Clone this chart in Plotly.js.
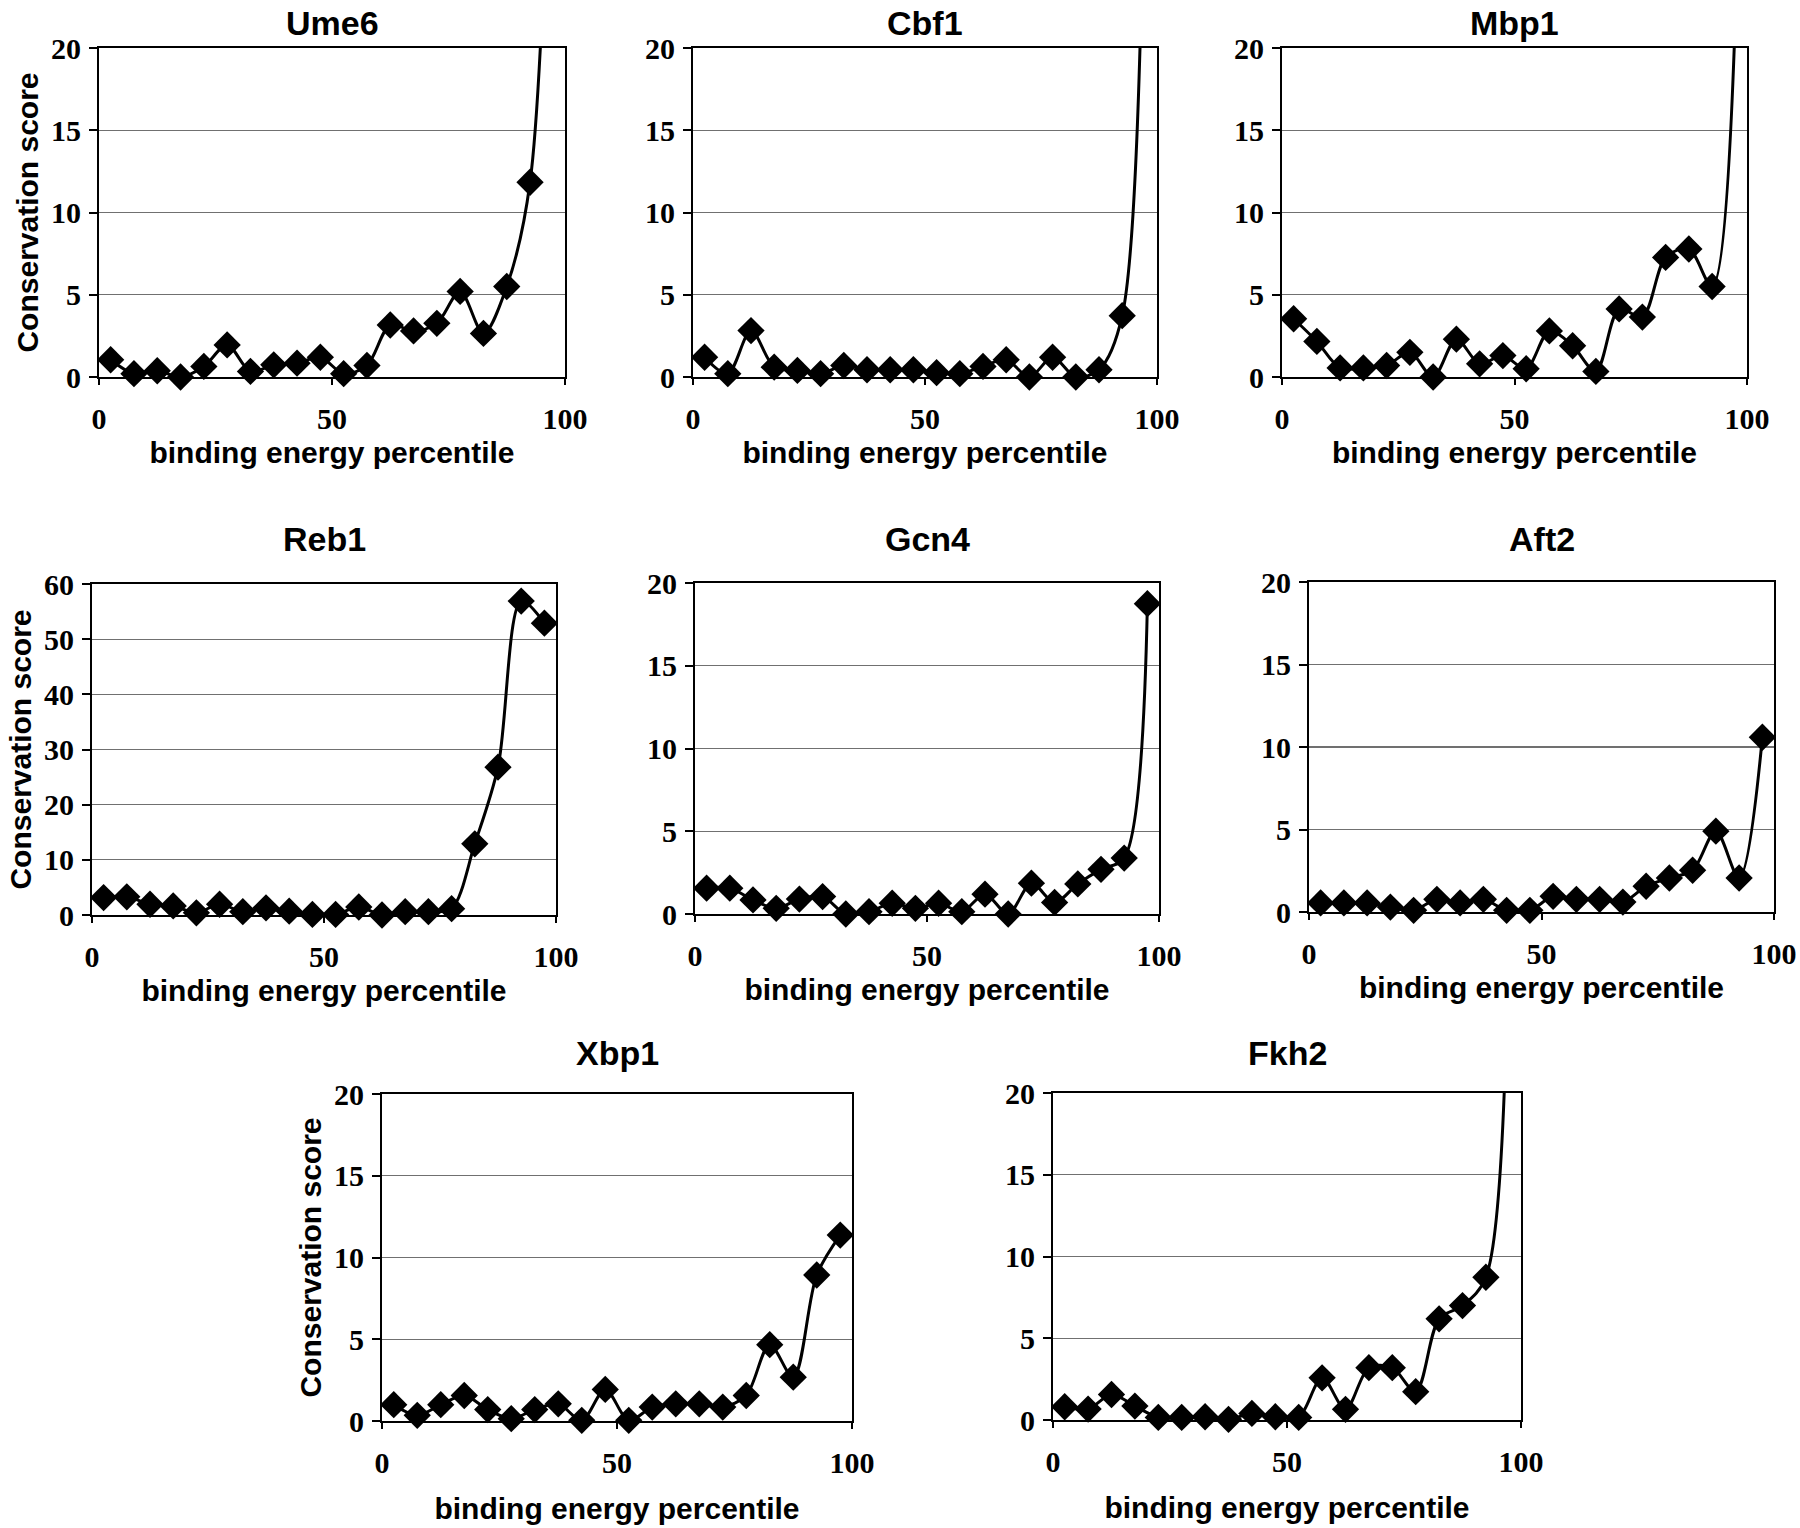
<!DOCTYPE html>
<html>
<head>
<meta charset="utf-8">
<script src="https://cdn.plot.ly/plotly-3.0.1.min.js"></script>
<style>
  html, body { margin: 0; padding: 0; background: #fff; }
  #chart { width: 1800px; height: 1528px; }
</style>
</head>
<body>
<div id="chart"></div>
<script>
// binding energy percentile bins (centre of each 5% bin)
const percentile = [2.5, 7.5, 12.5, 17.5, 22.5, 27.5, 32.5, 37.5, 42.5, 47.5,
  52.5, 57.5, 62.5, 67.5, 72.5, 77.5, 82.5, 87.5, 92.5, 97.5];

// conservation score per factor (last points of some panels run off the top)
const ume6 = [1.05, 0.2, 0.38, 0, 0.64, 1.95, 0.34, 0.74, 0.84, 1.2,
  0.2, 0.7, 3.16, 2.8, 3.26, 5.2, 2.65, 5.5, 11.84, 42];
const cbf1 = [1.2, 0.2, 2.82, 0.6, 0.4, 0.2, 0.7, 0.44, 0.44, 0.44,
  0.26, 0.2, 0.64, 1.05, 0, 1.2, 0, 0.44, 3.73, 38];
const mbp1 = [3.54, 2.16, 0.55, 0.55, 0.7, 1.5, 0, 2.3, 0.8, 1.3,
  0.5, 2.8, 1.9, 0.34, 4.14, 3.64, 7.27, 7.78, 5.5, 22];
const reb1 = [3.15, 3.3, 1.95, 1.65, 0.4, 1.95, 0.6, 1.3, 0.7, 0.1,
  0.1, 1.45, 0, 0.6, 0.6, 1.15, 12.9, 26.8, 56.9, 52.9];
const gcn4 = [1.56, 1.56, 0.85, 0.34, 0.9, 1.05, 0, 0.14, 0.65, 0.34,
  0.65, 0.14, 1.2, 0, 1.86, 0.7, 1.82, 2.7, 3.38, 18.75];
const aft2 = [0.55, 0.55, 0.55, 0.3, 0.1, 0.77, 0.55, 0.77, 0.1, 0.1,
  0.95, 0.77, 0.77, 0.6, 1.56, 2.06, 2.53, 4.9, 2.06, 10.59];
const xbp1 = [1.0, 0.35, 1.0, 1.56, 0.7, 0.14, 0.7, 1.05, 0.04, 1.93,
  0.04, 0.85, 1.05, 1.05, 0.85, 1.56, 4.67, 2.68, 8.93, 11.37];
const fkh2 = [0.81, 0.67, 1.56, 0.85, 0.16, 0.16, 0.2, 0.04, 0.4, 0.2,
  0.16, 2.58, 0.65, 3.2, 3.2, 1.73, 6.19, 7.0, 8.73, 35];

const names = ['Ume6', 'Cbf1', 'Mbp1', 'Reb1', 'Gcn4', 'Aft2', 'Xbp1', 'Fkh2'];
const series = [ume6, cbf1, mbp1, reb1, gcn4, aft2, xbp1, fkh2];
const yMax = [20, 20, 20, 60, 20, 20, 20, 20];
const yStep = [5, 5, 5, 10, 5, 5, 5, 5];

const xTitle = 'binding energy percentile';
const yTitle = 'Conservation score';

// plot boxes in pixels: [left, right, top, bottom]
const W = 1800, H = 1528;
const boxes = [
  [99, 565, 48, 377], [693, 1157, 48, 377], [1282, 1747, 48, 377],
  [92, 556, 584, 915], [695, 1159, 583, 914], [1309, 1774, 582, 912],
  [382, 852, 1094, 1421], [1053, 1521, 1093, 1420]
];
// vertical pixel of the top edge of each panel name
const nameTop = [2, 2, 2, 518, 518, 518, 1032, 1032];
const withYTitle = [true, false, false, true, false, false, true, false];

const tickFont = {family: '"Liberation Serif", "Times New Roman", serif', size: 30, color: '#000', weight: 'bold'};
const labelFont = {family: '"Liberation Sans", Arial, sans-serif', size: 30, color: '#000', weight: 'bold'};

var data = [];
var layout = {
  width: W, height: H,
  margin: {l: 0, r: 0, t: 0, b: 0},
  paper_bgcolor: '#fff', plot_bgcolor: '#fff',
  showlegend: false,
  annotations: []
};

names.forEach(function (name, i) {
  var n = i + 1;
  var b = boxes[i];
  var xk = 'xaxis' + (n === 1 ? '' : n);
  var yk = 'yaxis' + (n === 1 ? '' : n);
  data.push({
    x: percentile,
    y: series[i],
    xaxis: 'x' + (n === 1 ? '' : n),
    yaxis: 'y' + (n === 1 ? '' : n),
    type: 'scatter',
    mode: 'lines+markers',
    name: name,
    line: {color: '#000', width: 3, shape: 'spline', smoothing: 0.9},
    marker: {symbol: 'diamond', size: 21, color: '#000'},
    cliponaxis: false
  });
  layout[xk] = {
    domain: [b[0] / W, b[1] / W],
    anchor: 'y' + (n === 1 ? '' : n),
    range: [0, 100], tickvals: [0, 50, 100],
    showgrid: false, zeroline: false,
    showline: true, linecolor: '#000', linewidth: 2, mirror: true,
    ticks: 'outside', ticklen: 6, tickwidth: 2, tickcolor: '#000',
    tickfont: tickFont, ticklabelstandoff: 8,
    title: {text: xTitle, font: labelFont, standoff: i >= 6 ? 20 : 8}
  };
  layout[yk] = {
    domain: [1 - b[3] / H, 1 - b[2] / H],
    anchor: 'x' + (n === 1 ? '' : n),
    range: [0, yMax[i]], dtick: yStep[i], tick0: 0,
    showgrid: true, gridcolor: '#707070', gridwidth: 1.2,
    zeroline: false,
    showline: true, linecolor: '#000', linewidth: 2, mirror: true,
    ticks: 'outside', ticklen: 8, tickwidth: 2, tickcolor: '#000',
    tickfont: tickFont, ticklabelstandoff: 2,
    title: withYTitle[i] ? {text: yTitle, font: labelFont, standoff: 4} : {text: ''}
  };
  layout.annotations.push({
    text: name,
    xref: 'paper', yref: 'paper',
    x: (b[0] + b[1]) / 2 / W,
    y: 1 - nameTop[i] / H,
    xanchor: 'center', yanchor: 'top',
    showarrow: false,
    font: {family: '"Liberation Sans", Arial, sans-serif', size: 34, color: '#000', weight: 'bold'}
  });
});

Plotly.newPlot('chart', data, layout, {staticPlot: true});
</script>
</body>
</html>
